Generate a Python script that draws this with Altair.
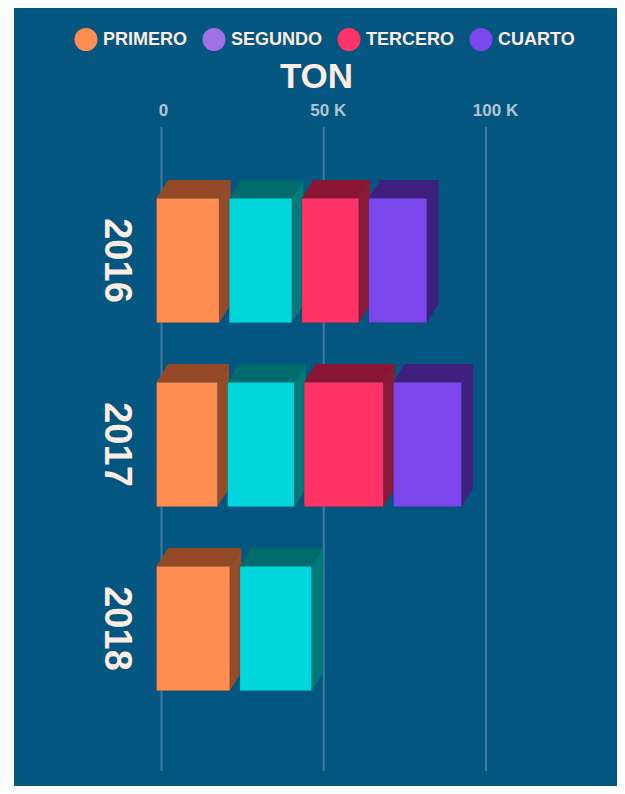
import altair as alt
import pandas as pd

# ---------------- data ----------------
years = ["2016", "2017", "2018"]
series = ["PRIMERO", "SEGUNDO", "TERCERO", "CUARTO"]
values_2016 = [22400, 22400, 20600, 21000]
values_2017 = [21900, 23600, 27500, 24100]
values_2018 = [25700, 25200]
year_values = [values_2016, values_2017, values_2018]

tick_values = [0, 50000, 100000]
tick_labels = ["0", "50 K", "100 K"]

# ---------------- style ----------------
BG = "#02567F"
GRID = "#3E7BA2"
CREAM = "#FFEDE3"
TICK_GREY = "#B4C4D1"
FONT = "Liberation Sans"

front_colors = ["#FF8C50", "#00D6DB", "#FF3366", "#7B46EB"]
top_colors = ["#944A28", "#006B6C", "#8A1634", "#3F1F7E"]
side_colors = ["#964B29", "#007A79", "#8B1A36", "#40207F"]
legend_colors = ["#FF8C50", "#A070E6", "#FF3366", "#7B46EB"]

W, H = 609, 778          # whole svg = plot area
X0 = 153.5               # pixel of value 0
PXU = 3.245 / 1000       # pixels per ton
Y0 = 252.5               # pixel of first row centre
ROW = 184.0              # pixels per row

SHIFT = -5 / PXU         # front face shift
GAPU = 10 / PXU          # visual gap between stacked segments
DXU = 11.5 / PXU         # 3D depth (x)
DYU = 18.4 / ROW         # 3D depth (y)
HALF = 62.2 / ROW        # half bar thickness

xscale = alt.Scale(domain=[-X0 / PXU, (W - X0) / PXU], nice=False, zero=False)
yscale = alt.Scale(domain=[-Y0 / ROW, (H - Y0) / ROW], nice=False, zero=False, reverse=True)

keys, kcolors = [], []
for s, fc, tc, sc in zip(series, front_colors, top_colors, side_colors):
    keys += [f"{s}|front", f"{s}|top", f"{s}|side"]
    kcolors += [fc, tc, sc]
cscale = alt.Scale(domain=keys, range=kcolors)

fronts, faces = [], []
for r, vals in enumerate(year_values):
    start = 0
    for i, v in enumerate(vals):
        end = start + v
        xf0 = start + SHIFT
        xf1 = end + SHIFT - GAPU
        yt, yb = r - HALF, r + HALF
        s = series[i]
        fronts.append(dict(x=xf0, x2=xf1, y=yt, y2=yb, key=f"{s}|front"))
        fid = f"f{r}{i}"
        pts_top = [(xf0, yt, yt), (xf0 + DXU, yt - DYU, yt),
                   (xf1, yt - DYU, yt), (xf1 + DXU, yt - DYU, yt - DYU)]
        for px, py, py2 in pts_top:
            faces.append(dict(face=fid + "t", x=px, y=py, y2=py2, key=f"{s}|top"))
        pts_side = [(xf1, yt, yb), (xf1 + DXU, yt - DYU, yb - DYU)]
        for px, py, py2 in pts_side:
            faces.append(dict(face=fid + "s", x=px, y=py, y2=py2, key=f"{s}|side"))
        start = end

fronts_df = pd.DataFrame(fronts)
faces_df = pd.DataFrame(faces)
ticks_df = pd.DataFrame({"v": tick_values, "label": tick_labels})
years_df = pd.DataFrame({"year": years, "r": list(range(len(years)))})
legend_df = pd.DataFrame({"s": series})

bg = alt.Chart(pd.DataFrame({"a": [0]})).mark_rect(color=BG).encode(
    x=alt.value(6), x2=alt.value(W), y=alt.value(0), y2=alt.value(H)
)

grid = alt.Chart(ticks_df).mark_rule(color=GRID, strokeWidth=2).encode(
    x=alt.X("v:Q", scale=xscale, axis=None),
    y=alt.value(119), y2=alt.value(763),
)

faces_layer = alt.Chart(faces_df).mark_area().encode(
    x=alt.X("x:Q", scale=xscale, axis=None),
    y=alt.Y("y:Q", scale=yscale, axis=None, stack=None),
    y2="y2:Q",
    color=alt.Color("key:N", scale=cscale, legend=None),
    detail="face:N",
)

fronts_layer = alt.Chart(fronts_df).mark_rect(
    stroke="#000000", strokeOpacity=0.15, strokeWidth=1
).encode(
    x=alt.X("x:Q", scale=xscale, axis=None),
    x2="x2:Q",
    y=alt.Y("y:Q", scale=yscale, axis=None),
    y2="y2:Q",
    color=alt.Color("key:N", scale=cscale, legend=None),
)

year_text = alt.Chart(years_df).mark_text(
    angle=90, align="center", baseline="middle", font=FONT,
    fontSize=38, fontWeight="bold", color=CREAM
).encode(
    x=alt.value(108),
    y=alt.Y("r:Q", scale=yscale, axis=None),
    text="year:N",
)

tick_text = alt.Chart(ticks_df).transform_calculate(
    xl=f"datum.v + (datum.v == 0 ? 2 : (datum.v < 75000 ? 4.5 : 9.5)) / {PXU}"
).mark_text(
    align="center", baseline="alphabetic", font=FONT, fontSize=17,
    fontWeight="bold", color=TICK_GREY
).encode(
    x=alt.X("xl:Q", scale=xscale, axis=None),
    y=alt.value(107.7),
    text="label:N",
)

title_text = alt.Chart(pd.DataFrame({"t": ["TON"]})).mark_text(
    align="center", baseline="alphabetic", font=FONT, fontSize=35,
    fontWeight="bold", color=CREAM
).encode(x=alt.value(308.5), y=alt.value(79.8), text="t:N")

legend_layer = alt.Chart(legend_df).mark_circle(opacity=0).encode(
    x=alt.value(0), y=alt.value(0),
    fill=alt.Fill(
        "s:N",
        scale=alt.Scale(domain=series, range=legend_colors),
        legend=alt.Legend(
            orient="none", legendX=66.5, legendY=20, direction="horizontal",
            title=None, symbolType="circle", symbolSize=529, symbolStrokeWidth=0,
            symbolOpacity=1, labelFont=FONT, labelFontSize=18, labelFontWeight="bold",
            labelColor=CREAM, labelOffset=5.5, columnPadding=15, padding=0,
        ),
    ),
)

chart = alt.layer(
    bg, grid, faces_layer, fronts_layer, year_text, tick_text, title_text, legend_layer
).properties(
    width=W, height=H, autosize=alt.AutoSizeParams(type="none"), padding=0,
    background="white",
).configure_view(strokeWidth=0)

chart.save("out.html", embed_options={"renderer": "svg", "actions": False})
